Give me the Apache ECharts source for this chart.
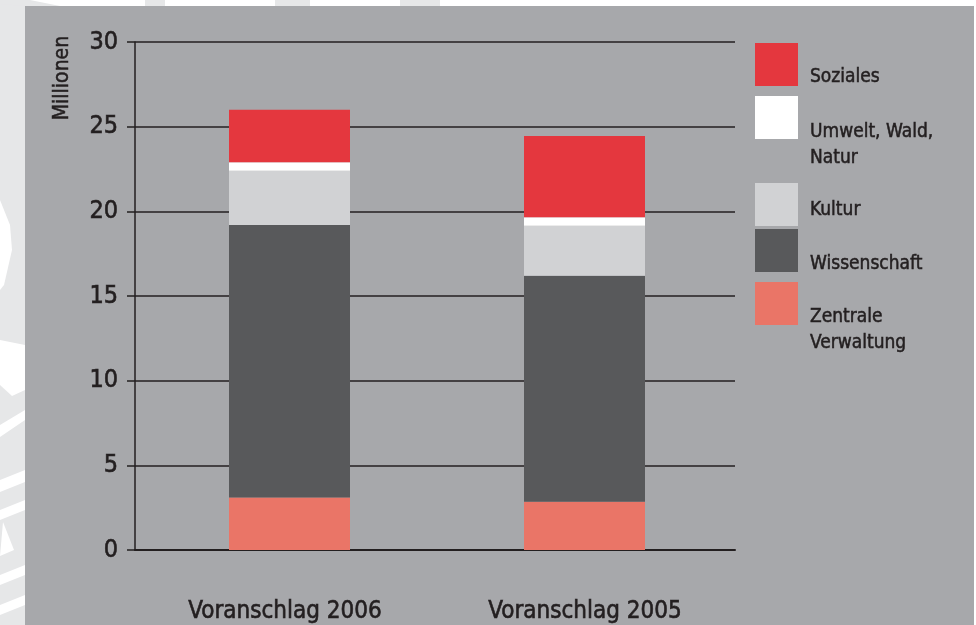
<!DOCTYPE html>
<html>
<head>
<meta charset="utf-8">
<script src="https://cdn.jsdelivr.net/npm/echarts@6/dist/echarts.min.js"></script>
<style>
html,body{margin:0;padding:0;background:#fff;}
#c{width:976px;height:625px;}
</style>
</head>
<body>
<div id="c"></div>
<script>
var categories = ['Voranschlag 2006', 'Voranschlag 2005'];
var seriesNames = ['Zentrale Verwaltung', 'Wissenschaft', 'Kultur', 'Umwelt, Wald, Natur', 'Soziales'];
var legendLabels = ['Zentrale\nVerwaltung', 'Wissenschaft', 'Kultur', 'Umwelt, Wald,\nNatur', 'Soziales'];
var zentrale = [3.1, 2.85];
var wissenschaft = [16.1, 13.35];
var kultur = [3.2, 2.95];
var umwelt = [0.5, 0.5];
var soziales = [3.1, 4.8];
var yTicks = [0, 5, 10, 15, 20, 25, 30];

var colors = ['#ea7567', '#58595b', '#d1d2d4', '#ffffff', '#e4373e'];
var values = [zentrale, wissenschaft, kultur, umwelt, soziales];
var FONT = "'DejaVu Sans Condensed','DejaVu Sans',sans-serif";
var INK = '#231f20';
var THICK = {textBorderColor: INK, textBorderWidth: 0.6};

// legend layout: desired top of square, spacer height to push text down
var legendTops = [282, 229, 183, 96, 43];
var legendSpacer = [54, 27, 11, 55, 25];
var legendLines = [2, 1, 1, 2, 1];

var chart = echarts.init(document.getElementById('c'), null, {renderer: 'canvas'});

var series = seriesNames.map(function (n, i) {
  return {
    name: n,
    type: 'bar',
    stack: 'total',
    barWidth: 121,
    xAxisIndex: 1,
    yAxisIndex: 1,
    data: values[i],
    itemStyle: {color: colors[i]},
    emphasis: {disabled: true}
  };
});

var legends = seriesNames.map(function (n, i) {
  var blockH = legendSpacer[i] + legendLines[i] * 26;
  var shift = Math.max(0, (blockH - 43) / 2);
  return {
    data: [n],
    left: 755,
    top: legendTops[i] - shift,
    orient: 'vertical',
    itemWidth: 43,
    itemHeight: 43,
    icon: 'rect',
    selectedMode: false,
    padding: 0,
    formatter: function () {
      return '{s|}\n' + legendLabels[i].split('\n').map(function (l) { return '{t|' + l + '}'; }).join('\n');
    },
    textStyle: {
      fontFamily: FONT,
      fontSize: 19,
      color: INK,
      rich: {
        s: {height: legendSpacer[i], lineHeight: legendSpacer[i], fontSize: 1, padding: [0, 0, 0, 7]},
        t: {fontFamily: FONT, fontSize: 19, color: INK, lineHeight: 26, padding: [0, 0, 0, 7], textBorderColor: INK, textBorderWidth: 0.5}
      }
    }
  };
});

chart.setOption({
  backgroundColor: '#ffffff',
  animation: false,
  graphic: [
    {type: 'rect', shape: {x: 0, y: 0, width: 25, height: 625}, style: {fill: '#e6e7e8'}, z: -10, silent: true},
    {type: 'polygon', shape: {points: [[0, 200], [10, 225], [12, 250], [4, 285], [0, 290]]}, style: {fill: '#ffffff'}, z: -9, silent: true},
    {type: 'polygon', shape: {points: [[0, 340], [25, 345], [25, 390], [12, 396], [0, 385]]}, style: {fill: '#ffffff'}, z: -9, silent: true},
    {type: 'polygon', shape: {points: [[0, 425], [25, 410], [25, 420], [0, 437]]}, style: {fill: '#ffffff'}, z: -9, silent: true},
    {type: 'polygon', shape: {points: [[0, 480], [25, 470], [25, 482], [0, 492]]}, style: {fill: '#ffffff'}, z: -9, silent: true},
    {type: 'polygon', shape: {points: [[0, 510], [25, 500], [25, 510], [0, 520]]}, style: {fill: '#ffffff'}, z: -9, silent: true},
    {type: 'polygon', shape: {points: [[3, 522], [14, 550], [0, 556]]}, style: {fill: '#ffffff'}, z: -9, silent: true},
    {type: 'polygon', shape: {points: [[0, 575], [25, 565], [25, 575], [0, 585]]}, style: {fill: '#ffffff'}, z: -9, silent: true},
    {type: 'polygon', shape: {points: [[0, 605], [25, 595], [25, 605], [0, 615]]}, style: {fill: '#ffffff'}, z: -9, silent: true},
    {type: 'polygon', shape: {points: [[0, 0], [30, 0], [60, 6], [25, 6], [0, 4]]}, style: {fill: '#e6e7e8'}, z: -9, silent: true},
    {type: 'rect', shape: {x: 145, y: 0, width: 20, height: 6}, style: {fill: '#e6e7e8'}, z: -9, silent: true},
    {type: 'rect', shape: {x: 275, y: 0, width: 35, height: 6}, style: {fill: '#e6e7e8'}, z: -9, silent: true},
    {type: 'rect', shape: {x: 400, y: 0, width: 40, height: 6}, style: {fill: '#e6e7e8'}, z: -9, silent: true},
    {type: 'rect', shape: {x: 25, y: 6, width: 949, height: 619}, style: {fill: '#a7a8ab'}, z: -8, silent: true},
    {
      type: 'text', x: 63, y: 78, rotation: Math.PI / 2,
      style: {text: 'Millionen', fontFamily: FONT, fontSize: 21, fill: INK, align: 'center', verticalAlign: 'middle', stroke: INK, lineWidth: 0.5},
      silent: true
    }
  ],
  grid: [
    {left: 135, right: 241, top: 42, bottom: 75},
    {left: 142, right: 244, top: 42, bottom: 75}
  ],
  legend: legends,
  xAxis: [
    {
      type: 'category',
      gridIndex: 0,
      data: categories,
      axisLine: {lineStyle: {color: INK, width: 2}},
      axisTick: {show: false},
      axisLabel: {fontFamily: FONT, fontSize: 24, color: INK, margin: 50, textBorderColor: INK, textBorderWidth: 0.6}
    },
    {
      type: 'category',
      gridIndex: 1,
      data: categories,
      show: false
    }
  ],
  yAxis: [
    {
      type: 'value',
      gridIndex: 0,
      min: yTicks[0],
      max: yTicks[yTicks.length - 1],
      interval: 5,
      axisLine: {show: true, lineStyle: {color: INK, width: 1.5}},
      axisTick: {show: true, length: 8, lineStyle: {color: INK, width: 1.5}},
      splitLine: {lineStyle: {color: INK, width: 1.5}},
      axisLabel: {fontFamily: FONT, fontSize: 25, color: INK, margin: 17, textBorderColor: INK, textBorderWidth: 0.6}
    },
    {
      type: 'value',
      gridIndex: 1,
      min: yTicks[0],
      max: yTicks[yTicks.length - 1],
      interval: 5,
      show: false,
      splitLine: {show: false}
    }
  ],
  series: series
});
</script>
</body>
</html>
